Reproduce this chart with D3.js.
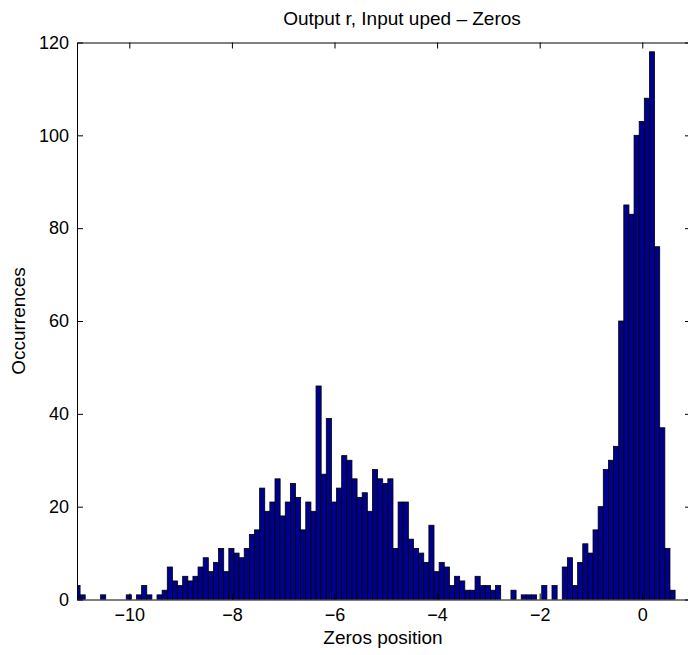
<!DOCTYPE html>
<html>
<head>
<meta charset="utf-8">
<script src="https://cdn.jsdelivr.net/npm/d3@7"></script>
<style>
  body { margin: 0; background: #fff; }
  svg { display: block; font-family: "Liberation Sans", Arial, sans-serif; }
</style>
</head>
<body>
<div id="chart"></div>
<script>
// histogram bins: first bin left edge and width (x units)
const binStart = -11.06;
const binWidth = 0.1;

// occurrences per bin, left to right
const counts = [
  3, 1, 0, 0, 0, 1, 0, 0, 0, 0,
  1, 0, 1, 3, 1, 0, 1, 2, 7, 4,
  3, 5, 4, 5, 7, 9, 6, 8, 11, 6,
  11, 10, 9, 11, 14, 15, 24, 19, 21, 26,
  18, 21, 25, 22, 15, 21, 19, 46, 27, 39,
  21, 24, 31, 30, 26, 22, 23, 19, 28, 26,
  25, 26, 11, 21, 21, 13, 11, 10, 8, 16,
  6, 8, 7, 3, 5, 4, 2, 2, 5, 3,
  3, 2, 3, 0, 0, 2, 0, 1, 1, 1,
  0, 3, 0, 3, 0, 7, 9, 3, 8, 12,
  10, 15, 20, 28, 30, 33, 60, 85, 83, 100,
  103, 108, 118, 76, 37, 11, 2
];

const xTicks = [-10, -8, -6, -4, -2, 0];
const yTicks = [0, 20, 40, 60, 80, 100, 120];

const bins = counts.map((c, i) => ({x0: binStart + i * binWidth, x1: binStart + (i + 1) * binWidth, n: c}));

const width = 688, height = 655;
const plotLeft = 77, plotRight = 691, plotTop = 42.5, plotBottom = 599.5;

const x = d3.scaleLinear().domain([-11.02, 0.95]).range([plotLeft, plotRight]);
const y = d3.scaleLinear().domain([0, 120]).range([plotBottom, plotTop]);

const svg = d3.select("#chart").append("svg")
    .attr("width", width)
    .attr("height", height);

svg.append("clipPath").attr("id", "plotclip")
  .append("rect")
    .attr("x", plotLeft).attr("y", plotTop)
    .attr("width", plotRight - plotLeft).attr("height", plotBottom - plotTop);

// bars
svg.append("g")
    .attr("clip-path", "url(#plotclip)")
  .selectAll("rect")
  .data(bins.filter(d => d.n > 0))
  .enter()
  .append("rect")
    .attr("x", d => x(d.x0))
    .attr("y", d => y(d.n))
    .attr("width", d => x(d.x1) - x(d.x0))
    .attr("height", d => y(0) - y(d.n))
    .attr("fill", "#00008f")
    .attr("stroke", "#000")
    .attr("stroke-width", 0.8);

// axes, ticks pointing inward
const fmt = d3.format("d");

svg.append("g")
    .attr("transform", `translate(0,${plotBottom})`)
    .call(d3.axisBottom(x).tickValues(xTicks).tickFormat(fmt).tickSize(-6).tickSizeOuter(0).tickPadding(9));

svg.append("g")
    .attr("transform", `translate(0,${plotTop})`)
    .call(d3.axisTop(x).tickValues(xTicks).tickFormat("").tickSize(-6).tickSizeOuter(0));

svg.append("g")
    .attr("transform", `translate(${plotLeft},0)`)
    .call(d3.axisLeft(y).tickValues(yTicks).tickFormat(fmt).tickSize(-6).tickSizeOuter(0).tickPadding(8));

svg.append("g")
    .attr("transform", `translate(${plotRight},0)`)
    .call(d3.axisRight(y).tickValues(yTicks).tickFormat("").tickSize(-6).tickSizeOuter(0));

svg.selectAll(".domain").attr("stroke", "#000").attr("stroke-width", 1);
svg.selectAll(".tick line").attr("stroke", "#000").attr("stroke-width", 1);
svg.selectAll(".tick text")
    .attr("fill", "#000")
    .style("font-size", "18px")
    .style("font-family", "'Liberation Sans', Arial, sans-serif");

// title and labels
svg.append("text")
    .attr("x", 402)
    .attr("y", 25)
    .attr("text-anchor", "middle")
    .style("font-size", "19px")
    .text("Output r, Input uped \u2013 Zeros");

svg.append("text")
    .attr("x", 383)
    .attr("y", 644)
    .attr("text-anchor", "middle")
    .style("font-size", "19px")
    .text("Zeros position");

svg.append("text")
    .attr("transform", `translate(25,${(plotTop + plotBottom) / 2}) rotate(-90)`)
    .attr("text-anchor", "middle")
    .style("font-size", "19px")
    .text("Occurrences");
</script>
</body>
</html>
